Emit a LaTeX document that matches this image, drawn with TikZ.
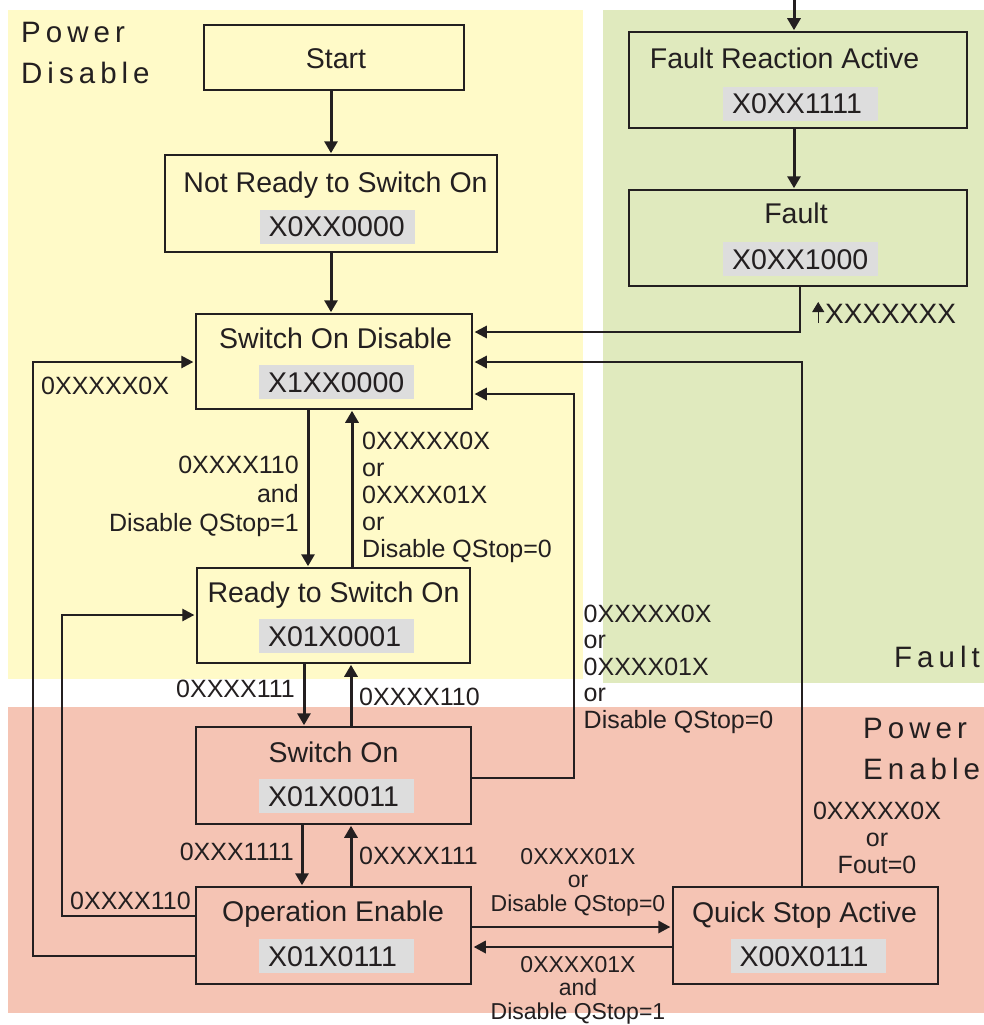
\documentclass[tikz,border=0pt]{standalone}
\usepackage{fontspec}
\setmainfont{Liberation Sans}
\newfontfamily\regionfont[LetterSpace=17]{Liberation Sans}
\usetikzlibrary{arrows.meta}
\definecolor{ink}{RGB}{35,31,32}
\definecolor{pdbg}{RGB}{255,250,200}
\definecolor{fltbg}{RGB}{224,234,190}
\definecolor{pebg}{RGB}{245,196,180}
\definecolor{codebg}{RGB}{221,221,221}
\newcommand{\uparrowglyph}{\tikz[baseline=0pt,x=1pt,y=1pt]\draw[ink, line width=0.9pt, -{Triangle[length=10pt,width=12pt]}] (0,0) -- (0,21);}
\begin{document}
\begin{tikzpicture}[x=1pt,y=-1pt,
 state/.style={draw=ink, line width=1.5pt, inner sep=0pt},
 ttl/.style={text=ink, font=\fontsize{28.5}{30}\selectfont, inner sep=0pt, anchor=base},
 code/.style={fill=codebg, text=ink, font=\fontsize{28.5}{30}\selectfont, minimum height=34pt, text height=20.5pt, text depth=0pt, inner ysep=0pt, inner xsep=9pt, text width=137pt, align=left},
 lbl/.style={text=ink, font=\fontsize{25}{27}\selectfont, inner sep=0pt},
 slbl/.style={text=ink, font=\fontsize{23}{23.5}\selectfont, inner sep=0pt},
 region/.style={text=ink, font=\regionfont\fontsize{29.5}{41}\selectfont, inner sep=0pt, align=left, anchor=base west},
 tip/.style={-{Triangle[length=12pt,width=12.5pt]}},
 main/.style={draw=ink, line width=3pt, -{Triangle[length=12pt,width=13pt]}, shorten >=1pt},
 route/.style={draw=ink, line width=1.3pt, tip, shorten >=2pt},
 side/.style={draw=ink, line width=1.8pt, tip, shorten >=2pt},
]
\useasboundingbox (0,0) rectangle (984,1025);
\fill[white] (0,0) rectangle (984,1025);
% regions
\fill[pdbg] (8,10) rectangle (583,679);
\fill[fltbg] (603,10) rectangle (984,683);
\fill[pebg] (8,707) rectangle (984,1013);
\node[region] (rpd) at (21,84) {Power\\Disable};
\node[region] (rflt) at (894,667) {Fault};
\node[region] (rpe) at (863,779) {Power\\Enable};
% states
\node[state, minimum width=260pt, minimum height=65pt] (start) at (334,57.5) {};
\node[ttl] (startt) at (336,68) {Start};

\node[state, minimum width=332pt, minimum height=97pt] (nrs) at (331,203.5) {};
\node[ttl] (nrst) at (335.5,192) {Not Ready to Switch On};
\node[code] (nrsc) at (337,226.5) {X0XX0000};

\node[state, minimum width=338pt, minimum height=96pt] (fra) at (798,80) {};
\node[ttl] (frat) at (784.5,69) {Fault Reaction Active};
\node[code] (frac) at (800.5,103.5) {X0XX1111};

\node[state, minimum width=338pt, minimum height=96pt] (fault) at (798,238) {};
\node[ttl] (faultt) at (796,223) {Fault};
\node[code] (faultc) at (800.5,259) {X0XX1000};

\node[state, minimum width=276pt, minimum height=95pt] (sod) at (334,361.5) {};
\node[ttl] (sodt) at (335.5,348) {Switch On Disable};
\node[code] (sodc) at (336.5,382) {X1XX0000};

\node[state, minimum width=273pt, minimum height=95pt] (rso) at (333.5,615.5) {};
\node[ttl] (rsot) at (333.5,602) {Ready to Switch On};
\node[code] (rsoc) at (336.5,636) {X01X0001};

\node[state, minimum width=275pt, minimum height=97pt] (so) at (333.5,775.5) {};
\node[ttl] (sot) at (333.5,762) {Switch On};
\node[code] (soc) at (336.5,796) {X01X0011};

\node[state, minimum width=275pt, minimum height=97pt] (oe) at (333.5,935.5) {};
\node[ttl] (oet) at (333,921) {Operation Enable};
\node[code] (oec) at (336.5,956) {X01X0111};

\node[state, minimum width=265pt, minimum height=97pt] (qsa) at (805.5,935.5) {};
\node[ttl] (qsat) at (804.5,922) {Quick Stop Active};
\node[code] (qsac) at (808,956) {X00X0111};

% connectors
\coordinate (in) at (794,0);
\draw[main] (in) -- (fra.north -| in);
\draw[main] (fra.south -| 794,0) -- (fault.north -| 794,0);
\draw[main] (start.south -| 331,0) -- (nrs.north -| 331,0);
\draw[main] (nrs.south -| 331,0) -- (sod.north -| 331,0);
\draw[main] (sod.south -| 308,0) -- (rso.north -| 308,0);
\draw[main] (rso.north -| 352,0) -- (sod.south -| 352,0);
\draw[main] (rso.south -| 304,0) -- (so.north -| 304,0);
\draw[main] (so.north -| 351,0) -- (rso.south -| 351,0);
\draw[main] (so.south -| 302,0) -- (oe.north -| 302,0);
\draw[main] (oe.north -| 351,0) -- (so.south -| 351,0);
\draw[route] (fault.south -| 800,0) |- (sod.east |- 0,332);
\draw[route] (qsa.north -| 802,0) |- (sod.east |- 0,362);
\draw[route] (so.east |- 0,778) -| (574,394) -- (sod.east |- 0,394);
\draw[route] (oe.west |- 0,956) -| (33,362) -- (sod.west |- 0,362);
\draw[route] (oe.west |- 0,916) -| (62,615) -- (rso.west |- 0,615);
\draw[side] (oe.east |- 0,927) -- (qsa.west |- 0,927);
\draw[side] (qsa.west |- 0,947) -- (oe.east |- 0,947);

% labels (base anchor of a multi-line node = baseline of its last line)
\node[lbl, anchor=base west] (l1) at (41,394) {0XXXXX0X};
\node[lbl, anchor=base east, align=right, font=\fontsize{25}{29}\selectfont] (l2) at (299,531) {0XXXX110\\and\\Disable QStop=1};
\node[lbl, anchor=base west, align=left] (l3) at (362,557) {0XXXXX0X\\or\\0XXXX01X\\or\\Disable QStop=0};
\node[lbl, anchor=base east] (l4) at (295,697) {0XXXX111};
\node[lbl, anchor=base west] (l5) at (359,705) {0XXXX110};
\node[lbl, anchor=base west, align=left, font=\fontsize{25}{26.5}\selectfont] (l6) at (583.5,728) {0XXXXX0X\\or\\0XXXX01X\\or\\Disable QStop=0};
\node[lbl, anchor=base east] (l7) at (294,860) {0XXX1111};
\node[lbl, anchor=base west] (l8) at (359,864) {0XXXX111};
\node[lbl, anchor=base west] (l9) at (70,909) {0XXXX110};
\node[lbl, anchor=base west, font=\fontsize{28}{30}\selectfont] (l10) at (812,323) {\uparrowglyph\kern1pt XXXXXXX};
\node[lbl, anchor=base, align=center] (l11) at (877,873) {0XXXXX0X\\or\\Fout=0};
\node[slbl, anchor=base, align=center] (l12) at (578,911) {0XXXX01X\\or\\Disable QStop=0};
\node[slbl, anchor=base, align=center] (l13) at (578,1019) {0XXXX01X\\and\\Disable QStop=1};
\end{tikzpicture}
\end{document}
